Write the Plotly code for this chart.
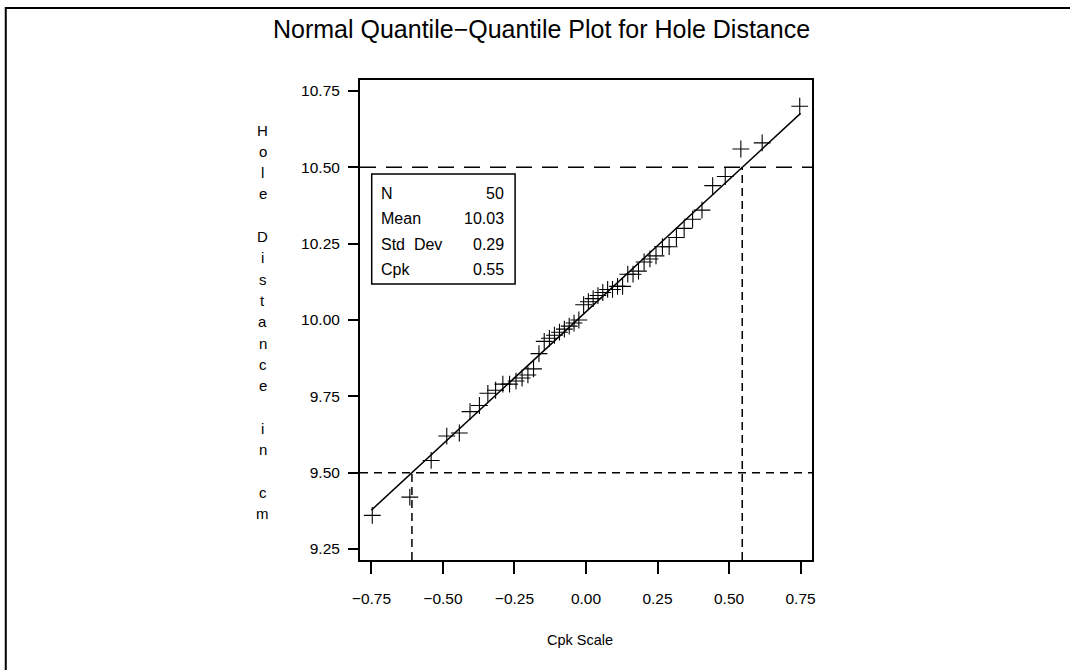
import plotly.graph_objects as go

# ---------------- data ----------------
# Cpk scale positions (normal quantiles / 3) and sorted hole distances
cpk_scale = [-0.7471, -0.6158, -0.5413, -0.4867, -0.4428, -0.4054, -0.3726, -0.3431, -0.3160, -0.2907,
             -0.2672, -0.2447, -0.2235, -0.2031, -0.1834, -0.1644, -0.1460, -0.1279, -0.1102, -0.0927,
             -0.0756, -0.0587, -0.0418, -0.0250, -0.0083, 0.0083, 0.0250, 0.0418, 0.0587, 0.0756,
             0.0927, 0.1102, 0.1279, 0.1460, 0.1644, 0.1834, 0.2031, 0.2235, 0.2447, 0.2672,
             0.2907, 0.3160, 0.3431, 0.3726, 0.4054, 0.4428, 0.4867, 0.5413, 0.6158, 0.7471]
hole_distance = [9.36, 9.42, 9.54, 9.62, 9.63, 9.70, 9.72, 9.76, 9.77, 9.79,
                 9.79, 9.80, 9.81, 9.82, 9.84, 9.89, 9.93, 9.94, 9.95, 9.96,
                 9.97, 9.98, 9.99, 10.00, 10.05, 10.06, 10.07, 10.08, 10.09, 10.10,
                 10.10, 10.11, 10.11, 10.15, 10.15, 10.16, 10.19, 10.20, 10.21, 10.24,
                 10.24, 10.27, 10.30, 10.33, 10.36, 10.44, 10.47, 10.56, 10.58, 10.70]

mean_val = 10.027
std_val = 0.2887
lsl = 9.50
usl = 10.50
stat_labels = ["N", "Mean", "Std  Dev", "Cpk"]
stat_values = ["50", "10.03", "0.29", "0.55"]

x_ticks = [-0.75, -0.50, -0.25, 0.00, 0.25, 0.50, 0.75]
x_ticktext = ["\u22120.75", "\u22120.50", "\u22120.25", "0.00", "0.25", "0.50", "0.75"]
y_ticks = [9.25, 9.50, 9.75, 10.00, 10.25, 10.50, 10.75]
y_ticktext = ["9.25", "9.50", "9.75", "10.00", "10.25", "10.50", "10.75"]

title_text = "Normal Quantile\u2212Quantile Plot for Hole Distance"
y_label = "Hole Distance in cm"
x_label = "Cpk Scale"

# ---------------- figure ----------------
W, H = 1070, 670
L, R, T, B = 360, 811.7, 80, 560
pw, ph = R - L, B - T


def px(xp):
    return (xp - L) / pw


def py(yp):
    return (B - yp) / ph


FONT = "Liberation Sans, Arial, sans-serif"
fig = go.Figure()

# fitted reference line
x_lo, x_hi = -0.75, 0.75
slope = 3 * std_val
fig.add_trace(go.Scatter(x=[x_lo, x_hi], y=[mean_val + slope * x_lo, mean_val + slope * x_hi],
                         mode="lines", line=dict(color="black", width=1.5), hoverinfo="skip"))

# spec limit lines
xmin, xmax = -0.79, 0.79
ymin, ymax = 9.214, 10.786
fig.add_trace(go.Scatter(x=[xmin, xmax], y=[usl, usl], mode="lines",
                         line=dict(color="black", width=1.5, dash="16px,10px"), hoverinfo="skip"))
fig.add_trace(go.Scatter(x=[xmin, xmax], y=[lsl, lsl], mode="lines",
                         line=dict(color="black", width=1.5, dash="8px,6px"), hoverinfo="skip"))
x_l = (lsl - mean_val) / slope
x_u = (usl - mean_val) / slope
fig.add_trace(go.Scatter(x=[x_l, x_l], y=[ymin, lsl], mode="lines",
                         line=dict(color="black", width=1.5, dash="8px,5px"), hoverinfo="skip"))
fig.add_trace(go.Scatter(x=[x_u, x_u], y=[ymin, usl], mode="lines",
                         line=dict(color="black", width=1.5, dash="8px,5px"), hoverinfo="skip"))

# data points
fig.add_trace(go.Scatter(x=cpk_scale, y=hole_distance, mode="markers",
                         marker=dict(symbol="cross-thin", size=12, color="black",
                                     line=dict(width=1.1, color="black"))))

shapes = []
annotations = []

# outer page border
shapes.append(dict(type="rect", xref="paper", yref="paper",
                   x0=px(6), x1=px(1090), y0=py(690), y1=py(8),
                   line=dict(color="black", width=2), fillcolor="rgba(0,0,0,0)", layer="above"))

# statistics inset box
shapes.append(dict(type="rect", xref="paper", yref="paper",
                   x0=px(371.7), x1=px(515), y0=py(284), y1=py(174),
                   line=dict(color="black", width=1.5), fillcolor="white", layer="above"))
row_y = [193, 218.5, 244, 269]
for lab, val, yy in zip(stat_labels, stat_values, row_y):
    annotations.append(dict(x=px(379), y=py(yy), xref="paper", yref="paper", text=lab,
                            showarrow=False, xanchor="left", yanchor="middle",
                            font=dict(family=FONT, size=16, color="black")))
    annotations.append(dict(x=px(506), y=py(yy), xref="paper", yref="paper", text=val,
                            showarrow=False, xanchor="right", yanchor="middle",
                            font=dict(family=FONT, size=16, color="black")))

# title
annotations.append(dict(x=px(541), y=py(29), xref="paper", yref="paper", text=title_text,
                        showarrow=False, xanchor="center", yanchor="middle",
                        font=dict(family=FONT, size=25, color="black")))
# x label
annotations.append(dict(x=px(580), y=py(640), xref="paper", yref="paper", text=x_label,
                        showarrow=False, xanchor="center", yanchor="middle",
                        font=dict(family=FONT, size=14.5, color="black")))
# stacked y label
for i, ch in enumerate(y_label):
    if ch == " ":
        continue
    annotations.append(dict(x=px(263), y=py(130 + i * 21.3), xref="paper", yref="paper", text=ch,
                            showarrow=False, xanchor="center", yanchor="middle",
                            font=dict(family=FONT, size=15, color="black")))

fig.update_layout(
    width=W, height=H,
    margin=dict(l=L, r=W - R, t=T, b=H - B, pad=0),
    paper_bgcolor="white", plot_bgcolor="white",
    showlegend=False,
    shapes=shapes, annotations=annotations,
    xaxis=dict(range=[xmin, xmax], tickvals=x_ticks, ticktext=x_ticktext,
               ticks="outside", ticklen=12, tickwidth=1.5, tickcolor="black",
               showline=True, linecolor="black", linewidth=2, mirror=True,
               showgrid=False, zeroline=False, ticklabelstandoff=11,
               tickfont=dict(family=FONT, size=15.5, color="black")),
    yaxis=dict(range=[ymin, ymax], tickvals=y_ticks, ticktext=y_ticktext,
               ticks="outside", ticklen=10, tickwidth=1.5, tickcolor="black",
               showline=True, linecolor="black", linewidth=2, mirror=True,
               showgrid=False, zeroline=False, ticklabelstandoff=5,
               tickfont=dict(family=FONT, size=15.5, color="black")),
)

fig.write_html("out.html", config={"displayModeBar": False},
               post_script="document.body.style.margin='0';document.body.style.overflow='hidden';")
